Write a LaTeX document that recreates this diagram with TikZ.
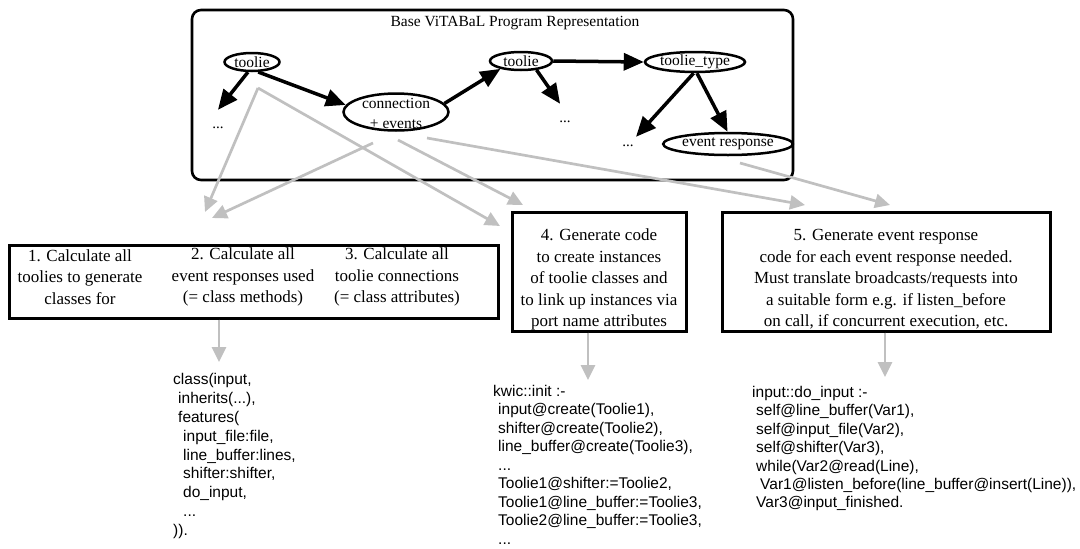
\documentclass[tikz,border=0pt]{standalone}
\usepackage{fontspec}
\setmainfont{Liberation Serif}
\newfontfamily\codefont{Liberation Sans}
\usetikzlibrary{shapes.geometric,arrows.meta}
\definecolor{arrowgray}{RGB}{192,192,192}

\begin{document}
\begin{tikzpicture}[x=1pt,y=-1pt,
  ell/.style={draw,ellipse,line width=2.5pt,inner sep=0pt,font=\fontsize{15.5}{17}\selectfont},
  lbl/.style={inner sep=0pt,font=\fontsize{15.5}{20}\selectfont},
  dots/.style={inner sep=0pt,minimum width=20pt,minimum height=36pt,font=\fontsize{15}{17}\selectfont},
  blk/.style={-{Triangle[length=20pt,width=17pt]},line width=3.5pt},
  gry/.style={-{Triangle[length=15pt,width=14pt]},line width=2.7pt,draw=arrowgray,fill=arrowgray},
  stepbox/.style={draw,line width=3pt,inner sep=0pt},
  steptext/.style={inner sep=0pt,align=center,font=\fontsize{17}{21.5}\selectfont},
  code/.style={anchor=north west,inner sep=0pt,align=left,font=\codefont\fontsize{15.5}{18.9}\selectfont},
]
\useasboundingbox (0,0) rectangle (1080,549);

% ---- base program representation ----
\node[draw,rounded corners=9pt,line width=2.6pt,minimum width=601pt,minimum height=170pt] (base) at (492.5,95) {};
\node[lbl,font=\fontsize{15.5}{18}\selectfont] (title) at (515,23) {Base ViTABaL Program Representation};

\node[ell,minimum width=55pt,minimum height=18pt] (t1) at (252,62) {toolie};
\node[ell,minimum width=105pt,minimum height=37pt] (conn) at (396,112) {};
\node[lbl,align=center] (connlbl) at (396,113) {connection\\+ events};
\node[ell,minimum width=62pt,minimum height=18pt] (t2) at (521,61) {toolie};
\node[ell,minimum width=100pt,minimum height=19pt] (tt) at (695,62) {toolie\_type};
\node[ell,minimum width=119pt,minimum height=22pt] (er) at (728,144) {event response};

\node[dots] (d1) at (218,128) {...};
\node[dots] (d2) at (565,122) {...};
\node[dots,minimum height=18pt] (d3) at (628,146) {...};

\draw[blk] (t1.-112) -- (d1.north);
\draw[blk] (t1.-58) -- (conn.172);
\draw[blk] (conn.10) -- (t2.201);
\draw[blk] (t2.-30) -- (d2.105);
\draw[blk] (t2.east) -- (tt.west);
\draw[blk] (tt.-97) -- (d3.49);
\draw[blk] (tt.-80) -- (er.92);

% ---- generation steps ----
\node[stepbox,minimum width=489pt,minimum height=73pt] (calc) at (253.5,281.5) {};
\node[steptext] (c1) at (80,277) {1. Calculate all\\toolies to generate\\classes for};
\node[steptext] (c2) at (243,277) {2. Calculate all\\event responses used\\(= class methods)};
\node[steptext] (c3) at (397,277) {3. Calculate all\\toolie connections\\(= class attributes)};

\node[stepbox,minimum width=174pt,minimum height=119pt] (gen4) at (599,271.5) {};
\node[steptext] (g4) at (599,279.5)
  {4. Generate code\\to create instances\\of toolie classes and\\to link up instances via\\port name attributes};
\node[stepbox,minimum width=328pt,minimum height=119pt] (gen5) at (886,271.5) {};
\node[steptext] (g5) at (886,279.5)
  {5. Generate event response\\code for each event response needed.\\Must translate broadcasts/requests into\\a suitable form e.g. if listen\_before\\on call, if concurrent execution, etc.};

% ---- data flow from the representation to the steps ----
\coordinate (s1) at (258,88);
\coordinate (s2) at (373,143);
\coordinate (s3) at (398,140);
\coordinate (s4) at (427,138);
\coordinate (s5) at (740,163);
\coordinate (e1) at (205,212);
\coordinate (e2) at (212,218);
\coordinate (e3) at (500,226);
\coordinate (e4) at (523,205);
\coordinate (e5) at (805,205);
\coordinate (e6) at (890,205);

\draw[gry] (s1) -- (e1);
\draw[gry] (s1) -- (e3);
\draw[gry] (s2) -- (e2);
\draw[gry] (s3) -- (e4);
\draw[gry] (s4) -- (e5);
\draw[gry] (s5) -- (e6);

% ---- generated code ----
\node[code] (cls) at (173,373) {class(input,\\
\hspace*{5pt}inherits(...),\\
\hspace*{5pt}features(\\
\hspace*{10pt}input\_file:file,\\
\hspace*{10pt}line\_buffer:lines,\\
\hspace*{10pt}shifter:shifter,\\
\hspace*{10pt}do\_input,\\
\hspace*{10pt}...\\
)).};

\node[code,font=\codefont\fontsize{15.5}{18.5}\selectfont] (kw) at (493,385) {kwic::init :-\\
\hspace*{5pt}input@create(Toolie1),\\
\hspace*{5pt}shifter@create(Toolie2),\\
\hspace*{5pt}line\_buffer@create(Toolie3),\\
\hspace*{5pt}...\\
\hspace*{5pt}Toolie1@shifter:=Toolie2,\\
\hspace*{5pt}Toolie1@line\_buffer:=Toolie3,\\
\hspace*{5pt}Toolie2@line\_buffer:=Toolie3,\\
\hspace*{5pt}...};

\node[code,font=\codefont\fontsize{15.5}{18.4}\selectfont] (di) at (752,386) {input::do\_input :-\\
\hspace*{4pt}self@line\_buffer(Var1),\\
\hspace*{4pt}self@input\_file(Var2),\\
\hspace*{4pt}self@shifter(Var3),\\
\hspace*{4pt}while(Var2@read(Line),\\
\hspace*{8pt}Var1@listen\_before(line\_buffer@insert(Line)),\\
\hspace*{4pt}Var3@input\_finished.};

\coordinate (clsin) at (219,362);
\coordinate (kwin) at (588,380);
\coordinate (diin) at (885,377);
\draw[gry] (calc.south -| clsin) -- (clsin);
\draw[gry] (gen4.south -| kwin) -- (kwin);
\draw[gry] (gen5.south -| diin) -- (diin);
\end{tikzpicture}
\end{document}
